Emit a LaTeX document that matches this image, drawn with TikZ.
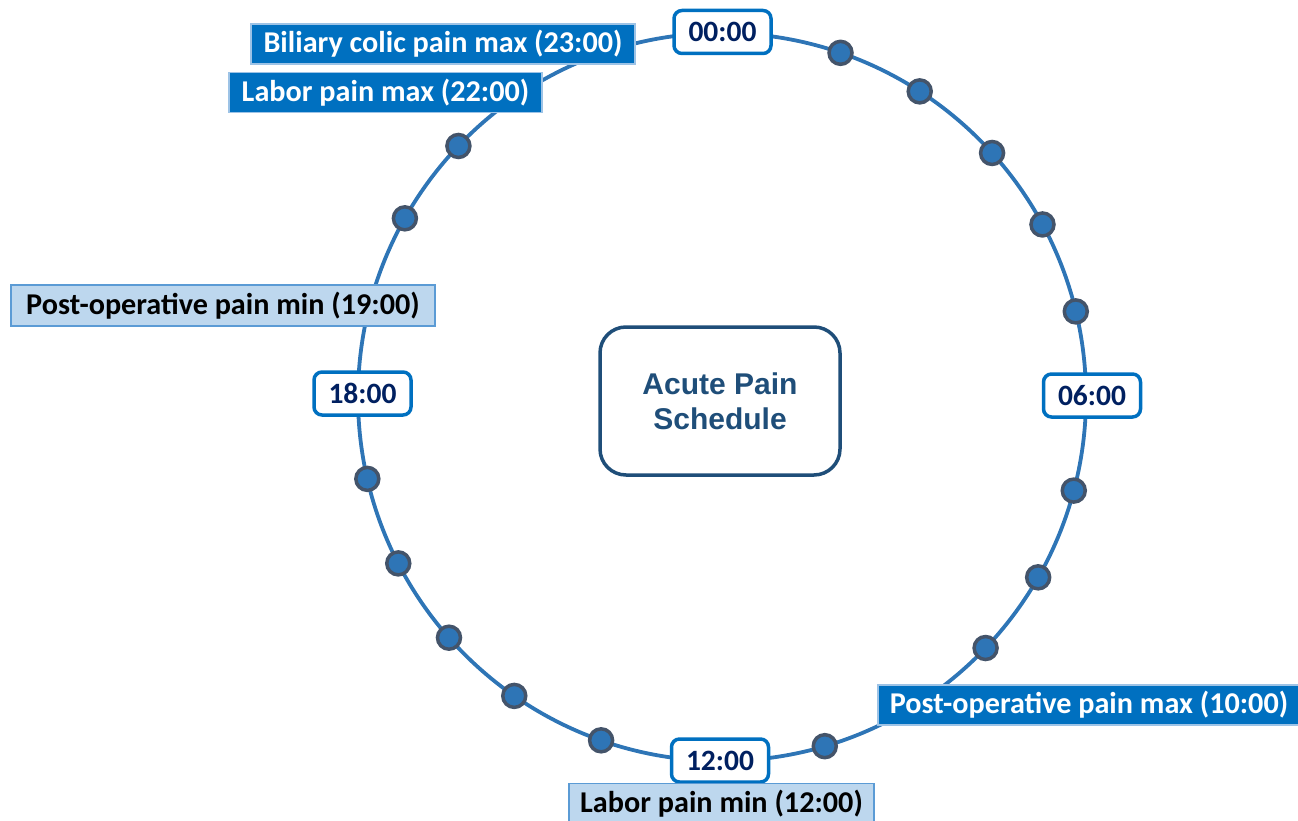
\documentclass[tikz,border=0pt]{standalone}
\usepackage{fontspec}
\setmainfont{Carlito}
\newfontfamily\arialfont{Liberation Sans}
\definecolor{ringblue}{HTML}{2E75B6}
\definecolor{dotedge}{HTML}{44546A}
\definecolor{darkfill}{HTML}{0070C0}
\definecolor{darkedge}{HTML}{9DC3E6}
\definecolor{lightfill}{HTML}{BDD7EE}
\definecolor{lightedge}{HTML}{5B9BD5}
\definecolor{timeedge}{HTML}{0070C0}
\definecolor{timetext}{HTML}{002060}
\definecolor{centeredge}{HTML}{1F4E79}
\definecolor{centertext}{HTML}{1F4E79}
\tikzset{
  hourdot/.style={circle, fill=ringblue, draw=dotedge, line width=3.5pt, minimum size=23pt, inner sep=0pt},
  timebox/.style={rectangle, rounded corners=8pt, fill=white, draw=timeedge, line width=3.5pt,
    minimum width=97pt, minimum height=43pt, inner sep=0pt, text=timetext,
    font=\fontsize{29.5}{32}\selectfont\bfseries},
  darklabel/.style={rectangle, fill=darkfill, draw=darkedge, line width=1.8pt, inner sep=0pt,
    minimum height=40pt, text=white, font=\fontsize{30.2}{32}\selectfont\bfseries},
  lightlabel/.style={rectangle, fill=lightfill, draw=lightedge, line width=1.5pt, inner sep=0pt,
    minimum height=41pt, text=black, font=\fontsize{30.2}{32}\selectfont\bfseries},
  centerbox/.style={rectangle, rounded corners=26pt, fill=white, draw=centeredge, line width=3.5pt,
    minimum width=240pt, minimum height=148pt, inner sep=0pt, text=centertext, align=center,
    font=\arialfont\fontsize{30}{35}\selectfont\bfseries},
}
\begin{document}
\begin{tikzpicture}[x=1pt,y=-1pt]
\useasboundingbox (0,0) rectangle (1298,821);
% ring
\draw[ringblue, line width=3.8pt] (722,397) circle [radius=364pt];
% hour dots (clockwise angle from top)
\foreach \n/\a in {1/19.0,2/32.9,3/47.9,4/61.7,5/76.4,7/104.9,8/119.7,9/133.6,11/163.6,
                   13/199.4,14/214.8,15/228.6,16/242.8,17/257.0,20/299.4,21/313.6}{
  \node[hourdot] (d\n) at ({722+364*sin(\a)},{397-364*cos(\a)}) {};
}
% time boxes
\node[timebox] (t00) at (722.5,32) {00:00};
\node[timebox] (t06) at (1092,395.5) {06:00};
\node[timebox] (t12) at (720,760.5) {12:00};
\node[timebox] (t18) at (362.5,393.5) {18:00};
% event labels
\node[darklabel, minimum width=384pt] (bil) at (443,44) {Biliary colic pain max (23:00)};
\node[darklabel, minimum width=313pt] (labmax) at (385.5,92.5) {Labor pain max (22:00)};
\node[lightlabel, minimum width=424pt] (pomin) at (223,305.5) {Post-operative pain min (19:00)};
\node[darklabel, minimum width=422pt] (pomax) at (1089,705) {Post-operative pain max (10:00)};
\node[lightlabel, minimum width=305pt] (labmin) at (721.5,804) {Labor pain min (12:00)};
% centre
\node[centerbox] (ctr) at (720,401) {Acute Pain\\Schedule};
\end{tikzpicture}
\end{document}
